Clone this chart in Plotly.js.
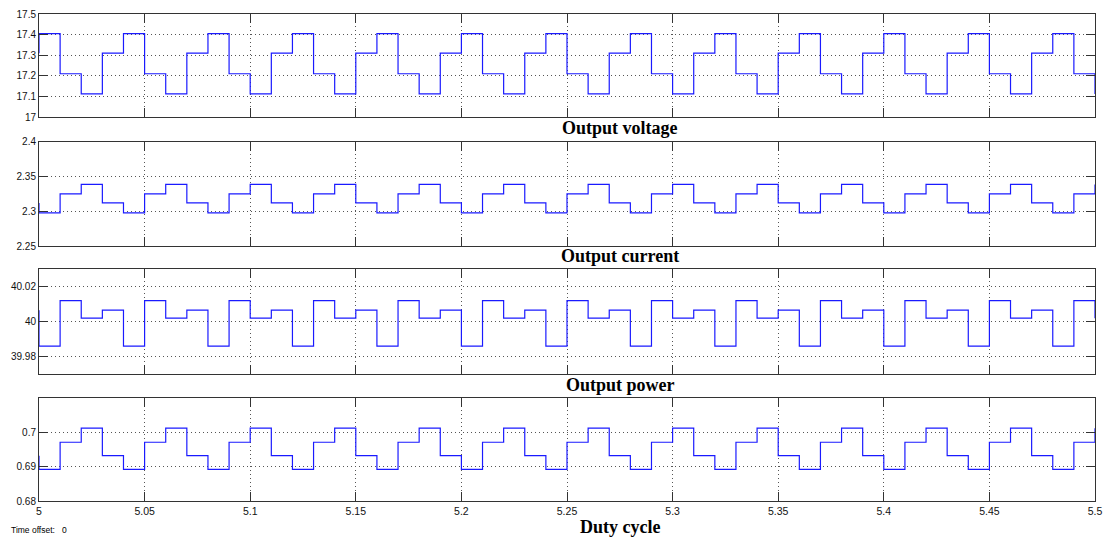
<!DOCTYPE html>
<html>
<head>
<meta charset="utf-8">
<script src="https://cdn.plot.ly/plotly-3.0.1.min.js"></script>
<style>
html,body{margin:0;padding:0;background:#fff;}
#chart{width:1106px;height:541px;}
</style>
</head>
<body>
<div id="chart"></div>
<script>
// Step breakpoints (s); first entry repeated for the value held just before t = 5
var time = [5, 5, 5.01, 5.02, 5.03, 5.04, 5.05, 5.06, 5.07, 5.08, 5.09, 5.1, 5.11, 5.12, 5.13, 5.14, 5.15, 5.16, 5.17, 5.18, 5.19, 5.2, 5.21, 5.22, 5.23, 5.24, 5.25, 5.26, 5.27, 5.28, 5.29, 5.3, 5.31, 5.32, 5.33, 5.34, 5.35, 5.36, 5.37, 5.38, 5.39, 5.4, 5.41, 5.42, 5.43, 5.44, 5.45, 5.46, 5.47, 5.48, 5.49, 5.5];

var outputVoltage = [17.31,
  17.405, 17.21, 17.112, 17.31, 17.405, 17.21, 17.112, 17.31, 17.405, 17.21, 17.112, 17.31,
  17.405, 17.21, 17.112, 17.31, 17.405, 17.21, 17.112, 17.31, 17.405, 17.21, 17.112, 17.31,
  17.405, 17.21, 17.112, 17.31, 17.405, 17.21, 17.112, 17.31, 17.405, 17.21, 17.112, 17.31,
  17.405, 17.21, 17.112, 17.31, 17.405, 17.21, 17.112, 17.31, 17.405, 17.21, 17.112, 17.31,
  17.405, 17.21, 17.112];

var outputCurrent = [2.312,
  2.2975, 2.325, 2.3385, 2.312, 2.2975, 2.325, 2.3385, 2.312, 2.2975, 2.325, 2.3385, 2.312,
  2.2975, 2.325, 2.3385, 2.312, 2.2975, 2.325, 2.3385, 2.312, 2.2975, 2.325, 2.3385, 2.312,
  2.2975, 2.325, 2.3385, 2.312, 2.2975, 2.325, 2.3385, 2.312, 2.2975, 2.325, 2.3385, 2.312,
  2.2975, 2.325, 2.3385, 2.312, 2.2975, 2.325, 2.3385, 2.312, 2.2975, 2.325, 2.3385, 2.312,
  2.2975, 2.325, 2.3385];

var outputPower = [40.0066,
  39.986, 40.012, 40.002, 40.0066, 39.986, 40.012, 40.002, 40.0066, 39.986, 40.012, 40.002, 40.0066,
  39.986, 40.012, 40.002, 40.0066, 39.986, 40.012, 40.002, 40.0066, 39.986, 40.012, 40.002, 40.0066,
  39.986, 40.012, 40.002, 40.0066, 39.986, 40.012, 40.002, 40.0066, 39.986, 40.012, 40.002, 40.0066,
  39.986, 40.012, 40.002, 40.0066, 39.986, 40.012, 40.002, 40.0066, 39.986, 40.012, 40.002, 40.0066,
  39.986, 40.012, 40.002];

var dutyCycle = [0.6933,
  0.6893, 0.6972, 0.7013, 0.6933, 0.6893, 0.6972, 0.7013, 0.6933, 0.6893, 0.6972, 0.7013, 0.6933,
  0.6893, 0.6972, 0.7013, 0.6933, 0.6893, 0.6972, 0.7013, 0.6933, 0.6893, 0.6972, 0.7013, 0.6933,
  0.6893, 0.6972, 0.7013, 0.6933, 0.6893, 0.6972, 0.7013, 0.6933, 0.6893, 0.6972, 0.7013, 0.6933,
  0.6893, 0.6972, 0.7013, 0.6933, 0.6893, 0.6972, 0.7013, 0.6933, 0.6893, 0.6972, 0.7013, 0.6933,
  0.6893, 0.6972, 0.7013];

var panelTitles = ["Output voltage", "Output current", "Output power", "Duty cycle"];
var xTicks = [5, 5.05, 5.1, 5.15, 5.2, 5.25, 5.3, 5.35, 5.4, 5.45, 5.5];
var xTickLabels = ["5", "5.05", "5.1", "5.15", "5.2", "5.25", "5.3", "5.35", "5.4", "5.45", "5.5"];
var yRanges = [[17, 17.5], [2.25, 2.4], [39.97, 40.03], [0.68, 0.71]];
var yTicks = [[17, 17.1, 17.2, 17.3, 17.4, 17.5], [2.25, 2.3, 2.35, 2.4], [39.98, 40, 40.02], [0.68, 0.69, 0.7]];
var yTickLabels = [["17", "17.1", "17.2", "17.3", "17.4", "17.5"], ["2.25", "2.3", "2.35", "2.4"], ["39.98", "40", "40.02"], ["0.68", "0.69", "0.7"]];

var W = 1106, H = 541;
var xDom = [39 / W, 1095 / W];
var panelPix = [[14, 117], [141.7, 246], [269.3, 374], [398.3, 501.3]];
var titleY = [128, 256, 385, 527];
var tickFontFamily = 'Liberation Sans Narrow, Arial Narrow, Liberation Sans, Arial, sans-serif';

var series = [outputVoltage, outputCurrent, outputPower, dutyCycle];
var traces = series.map(function (ys, i) {
  var s = i === 0 ? '' : String(i + 1);
  return {
    x: time, y: ys, type: 'scatter', mode: 'lines',
    line: {shape: 'hv', color: '#1a1aff', width: 1.2},
    xaxis: 'x' + s, yaxis: 'y' + s, hoverinfo: 'skip', showlegend: false
  };
});

var layout = {
  width: W, height: H,
  margin: {l: 0, r: 0, t: 0, b: 0, autoexpand: false},
  paper_bgcolor: '#ffffff', plot_bgcolor: '#ffffff',
  showlegend: false,
  font: {family: tickFontFamily, size: 10, color: '#000'},
  annotations: [], shapes: []
};

for (var i = 0; i < 4; i++) {
  var s = i === 0 ? '' : String(i + 1);
  var p = panelPix[i];
  var commonAx = {
    showline: true, linecolor: '#333', linewidth: 1, mirror: 'ticks',
    ticks: 'inside', ticklen: 9, tickwidth: 1, tickcolor: '#333',
    showgrid: true, gridcolor: '#555', gridwidth: 1, griddash: '1px,3px',
    zeroline: false, fixedrange: true
  };
  layout['xaxis' + s] = Object.assign({}, commonAx, {
    domain: xDom, range: [5, 5.5], anchor: 'y' + s,
    tickmode: 'array', tickvals: xTicks, ticktext: xTickLabels,
    showticklabels: i === 3, tickfont: {size: 10.5, family: tickFontFamily, color: '#111'}
  });
  layout['yaxis' + s] = Object.assign({}, commonAx, {
    domain: [1 - p[1] / H, 1 - p[0] / H], range: yRanges[i], anchor: 'x' + s,
    tickmode: 'array', tickvals: yTicks[i], ticktext: yTickLabels[i],
    tickfont: {size: 10, family: tickFontFamily, color: '#111'}
  });
  layout.annotations.push({
    text: '<b>' + panelTitles[i] + '</b>', xref: 'paper', yref: 'paper',
    x: 620 / W, y: 1 - titleY[i] / H, xanchor: 'center', yanchor: 'middle',
    showarrow: false, font: {family: 'Liberation Serif, Times New Roman, serif', size: 18, color: '#000'}
  });
}
layout.annotations.push({
  text: 'Time offset:&nbsp;&nbsp;&nbsp;0', xref: 'paper', yref: 'paper',
  x: 9 / W, y: 1 - 530 / H, xanchor: 'left', yanchor: 'middle',
  showarrow: false, font: {family: tickFontFamily, size: 8.5, color: '#000'}
});

Plotly.newPlot('chart', traces, layout, {staticPlot: true, displayModeBar: false});
</script>
</body>
</html>
